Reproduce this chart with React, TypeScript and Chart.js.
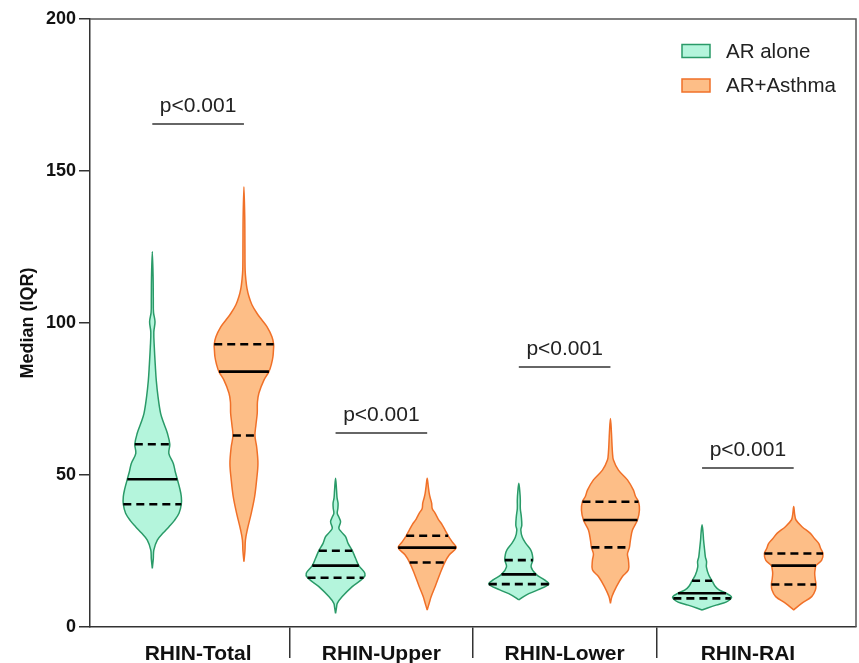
import React, { useEffect, useRef } from "react";
import { Chart, registerables } from "chart.js";

Chart.register(...registerables);

// ---------- data ----------
const CATEGORIES = ["RHIN-Total", "RHIN-Upper", "RHIN-Lower", "RHIN-RAI"];
const GROUPS = ["AR alone", "AR+Asthma"];
const Y_TICKS = [0, 50, 100, 150, 200];

// violin density profiles: value levels (bottom → top) and relative density (half width)
const TOTAL_ALONE_Y = [19.3, 22.5, 25.3, 28.6, 31, 33, 35, 37.4, 40.4, 42.9, 45.5, 48.6, 51, 53.8, 57.1, 60.1, 63.8, 67, 70.3, 75.8, 81, 86, 92, 97, 100.4, 103.5, 108, 115, 123.5];
const TOTAL_ALONE_D = [0, 1, 1.5, 5, 11, 16.7, 22, 26.7, 29, 29, 27.5, 25, 23, 21, 16.5, 17.5, 15, 11.5, 8.3, 5.7, 4, 3, 2, 1.5, 2.7, 1.2, 1, 0.8, 0];
const TOTAL_ASTHMA_Y = [21.5, 25, 28.6, 31.9, 37.4, 42.9, 48.4, 53.8, 59.3, 62.9, 66.5, 70.3, 74, 77, 81.2, 84, 86.5, 88.9, 91, 93, 95.5, 98.8, 101, 103.2, 106, 108.7, 111.5, 114, 117.4, 125, 135, 144.8];
const TOTAL_ASTHMA_D = [0, 1, 1.5, 3.3, 7.3, 10.7, 12.7, 14, 12.7, 11, 12, 13.3, 13.5, 15, 20, 25, 27.5, 29, 29.5, 29.7, 28, 23, 18, 13, 8, 5, 3, 2, 1.2, 1, 0.8, 0];
const UPPER_ALONE_Y = [4.5, 6.5, 7.8, 10, 13.3, 16.2, 17.7, 20.2, 22.6, 25.1, 27.5, 29.7, 31.2, 32.5, 34.6, 36, 37.4, 39, 40.7, 42.5, 45, 48.9];
const UPPER_ALONE_D = [0, 1, 1.7, 6.7, 16.7, 28, 29.3, 23.3, 20, 16.7, 12.5, 10, 6, 3.3, 5, 3.5, 1.7, 2.3, 2.5, 1.5, 1, 0];
const UPPER_ASTHMA_Y = [5.6, 7.8, 10, 13.3, 17.7, 21.2, 23.7, 26.1, 28, 30, 31.8, 33.6, 35.5, 37.4, 39, 40.7, 42.5, 44, 46.5, 48.9];
const UPPER_ASTHMA_D = [0, 2, 4, 8, 13, 17.5, 22, 29, 25, 21, 18, 15, 11, 8, 5, 4.5, 3, 2, 1, 0];
const LOWER_ALONE_Y = [8.9, 10.5, 12.2, 14.1, 15.5, 17.3, 19.8, 22, 23.8, 25.3, 27.5, 29.5, 31.9, 33.5, 36.3, 39, 41.8, 44.5, 47.3];
const LOWER_ALONE_D = [0, 7.3, 19, 30, 25.7, 17.3, 12.3, 14, 13.5, 12, 7, 3.5, 2, 3, 2.5, 1.5, 1.5, 1, 0];
const LOWER_ASTHMA_Y = [7.8, 10, 13.3, 16.6, 18.8, 22, 24, 26.2, 28.6, 31.9, 35.2, 38.5, 41.2, 43, 45, 48.4, 51.6, 54.9, 57.5, 60.4, 64, 68.6];
const LOWER_ASTHMA_D = [0, 1.5, 6, 12, 18, 18, 17, 19, 20, 22, 27, 29, 28, 25, 23, 17, 8, 3, 2, 1.5, 1, 0];
const RAI_ALONE_Y = [5.6, 7.2, 8.2, 9.2, 10, 11.1, 12.2, 13.3, 15.2, 17.1, 19.8, 21.5, 23.1, 25.5, 28.6, 31, 33.6];
const RAI_ALONE_D = [0, 14, 24, 28.5, 29.3, 24, 17, 13.3, 10, 6.7, 4.3, 4.5, 3.3, 2.5, 1.5, 1, 0];
const RAI_ASTHMA_Y = [5.6, 7.8, 10, 12.2, 14, 15.8, 17.7, 19, 20.2, 22, 24.2, 25.8, 27.5, 29, 30.8, 33, 35.2, 37, 39.6];
const RAI_ASTHMA_D = [0, 8, 18, 21.7, 22.3, 21.5, 21, 21.5, 22.3, 28, 29.3, 27, 25, 21, 16.7, 8.3, 2.3, 1, 0];

const ALONE_Y = [TOTAL_ALONE_Y, UPPER_ALONE_Y, LOWER_ALONE_Y, RAI_ALONE_Y];
const ALONE_D = [TOTAL_ALONE_D, UPPER_ALONE_D, LOWER_ALONE_D, RAI_ALONE_D];
const ASTHMA_Y = [TOTAL_ASTHMA_Y, UPPER_ASTHMA_Y, LOWER_ASTHMA_Y, RAI_ASTHMA_Y];
const ASTHMA_D = [TOTAL_ASTHMA_D, UPPER_ASTHMA_D, LOWER_ASTHMA_D, RAI_ASTHMA_D];

const MEDIAN_ALONE = [48.6, 20.2, 17.3, 11.1];
const Q1_ALONE = [40.4, 16.2, 14.1, 9.4];
const Q3_ALONE = [60.1, 25.1, 22, 15.2];
const MEDIAN_ASTHMA = [84, 26.1, 35.2, 20.2];
const Q1_ASTHMA = [63, 21.2, 26.2, 14];
const Q3_ASTHMA = [93, 30, 41.2, 24.2];

const P_LABELS = ["p<0.001", "p<0.001", "p<0.001", "p<0.001"];
const P_Y = [165.5, 63.8, 85.5, 52.3];

// ---------- style ----------
const GROUP_OFFSET = 0.25;
const DENSITY_TO_X = 1 / 183.25;
const ALONE_FILL = "#B4F5DC";
const ALONE_LINE = "#2A9A68";
const ASTHMA_FILL = "#FDBE87";
const ASTHMA_LINE = "#F07028";
const FONT = '"Liberation Sans", Arial, Helvetica, sans-serif';

function violinPoints(center: number, ys: number[], ds: number[]) {
  const right = ys.map((v, i) => ({ x: center + ds[i] * DENSITY_TO_X, y: v }));
  const left = ys
    .map((v, i) => ({ x: center - ds[i] * DENSITY_TO_X, y: v }))
    .reverse()
    .slice(1);
  return right.concat(left);
}

function densityAt(ys: number[], ds: number[], v: number) {
  for (let i = 0; i < ys.length - 1; i++) {
    if (v >= ys[i] && v <= ys[i + 1]) {
      const t = (v - ys[i]) / (ys[i + 1] - ys[i]);
      return ds[i] + t * (ds[i + 1] - ds[i]);
    }
  }
  return 0;
}

function quartileLine(center: number, ys: number[], ds: number[], v: number, dashed: boolean) {
  const d = densityAt(ys, ds, v) * DENSITY_TO_X;
  return {
    type: "scatter" as const,
    data: [
      { x: center - d, y: v },
      { x: center + d, y: v },
    ],
    showLine: true,
    borderColor: "#000",
    borderWidth: 2.6,
    borderDash: dashed ? [8, 5] : [],
    pointRadius: 0,
    fill: false,
    order: 0,
  };
}

function buildDatasets() {
  const sets: any[] = [];
  CATEGORIES.forEach((_, i) => {
    const cA = i - GROUP_OFFSET;
    const cB = i + GROUP_OFFSET;
    sets.push({
      type: "scatter",
      label: GROUPS[0],
      data: violinPoints(cA, ALONE_Y[i], ALONE_D[i]),
      showLine: true,
      fill: "shape",
      backgroundColor: ALONE_FILL,
      borderColor: ALONE_LINE,
      borderWidth: 1.5,
      tension: 0.35,
      pointRadius: 0,
      order: 1,
    });
    sets.push({
      type: "scatter",
      label: GROUPS[1],
      data: violinPoints(cB, ASTHMA_Y[i], ASTHMA_D[i]),
      showLine: true,
      fill: "shape",
      backgroundColor: ASTHMA_FILL,
      borderColor: ASTHMA_LINE,
      borderWidth: 1.5,
      tension: 0.35,
      pointRadius: 0,
      order: 1,
    });
    sets.push(quartileLine(cA, ALONE_Y[i], ALONE_D[i], MEDIAN_ALONE[i], false));
    sets.push(quartileLine(cA, ALONE_Y[i], ALONE_D[i], Q1_ALONE[i], true));
    sets.push(quartileLine(cA, ALONE_Y[i], ALONE_D[i], Q3_ALONE[i], true));
    sets.push(quartileLine(cB, ASTHMA_Y[i], ASTHMA_D[i], MEDIAN_ASTHMA[i], false));
    sets.push(quartileLine(cB, ASTHMA_Y[i], ASTHMA_D[i], Q1_ASTHMA[i], true));
    sets.push(quartileLine(cB, ASTHMA_Y[i], ASTHMA_D[i], Q3_ASTHMA[i], true));
    // significance bar
    sets.push({
      type: "scatter",
      data: [
        { x: cA, y: P_Y[i] },
        { x: cB, y: P_Y[i] },
      ],
      showLine: true,
      borderColor: "#333",
      borderWidth: 1.5,
      pointRadius: 0,
      fill: false,
      order: 0,
    });
  });
  return sets;
}

const annotPlugin = {
  id: "annot",
  afterDatasetsDraw(chart: any) {
    const { ctx, chartArea, scales } = chart;
    const x = scales.x;
    const y = scales.y;
    ctx.save();
    // p-value labels
    ctx.font = `21px ${FONT}`;
    ctx.fillStyle = "#222";
    ctx.textAlign = "center";
    ctx.textBaseline = "alphabetic";
    P_LABELS.forEach((t, i) => {
      ctx.fillText(t, x.getPixelForValue(i), y.getPixelForValue(P_Y[i]) - 12);
    });
    // frame (top and right)
    ctx.strokeStyle = "#555";
    ctx.lineWidth = 1.5;
    ctx.beginPath();
    ctx.moveTo(chartArea.left, chartArea.top);
    ctx.lineTo(chartArea.right, chartArea.top);
    ctx.lineTo(chartArea.right, chartArea.bottom);
    ctx.stroke();
    // legend
    const fills = [ALONE_FILL, ASTHMA_FILL];
    const lines = [ALONE_LINE, ASTHMA_LINE];
    const bx = chartArea.right - 174;
    GROUPS.forEach((g, i) => {
      const cy = chartArea.top + 32 + i * 34.5;
      ctx.fillStyle = fills[i];
      ctx.fillRect(bx, cy - 6.5, 28, 13);
      ctx.strokeStyle = lines[i];
      ctx.lineWidth = 1.5;
      ctx.strokeRect(bx, cy - 6.5, 28, 13);
      ctx.fillStyle = "#222";
      ctx.font = `20.5px ${FONT}`;
      ctx.textAlign = "left";
      ctx.textBaseline = "middle";
      ctx.fillText(g, bx + 44, cy + 1);
    });
    ctx.restore();
  },
};

export default function App() {
  const ref = useRef<HTMLCanvasElement | null>(null);
  useEffect(() => {
    if (!ref.current) return;
    const chart = new Chart(ref.current, {
      type: "scatter",
      data: { datasets: buildDatasets() },
      options: {
        animation: false,
        responsive: false,
        devicePixelRatio: 1,
        layout: { padding: { left: 0, top: 19, right: 3, bottom: 0 } },
        plugins: {
          legend: { display: false },
          tooltip: { enabled: false },
        },
        scales: {
          x: {
            type: "linear",
            min: -0.59,
            max: 3.59,
            afterBuildTicks: (scale: any) => {
              scale.ticks = [0, 0.5, 1, 1.5, 2, 2.5, 3].map((v) => ({ value: v }));
            },
            afterFit: (scale: any) => {
              scale.height = 36;
            },
            ticks: {
              autoSkip: false,
              maxRotation: 0,
              minRotation: 0,
              padding: -16,
              color: "#111",
              font: { family: FONT, size: 21, weight: "bold" },
              callback: (v: any) => (Number.isInteger(v) ? CATEGORIES[v] : ""),
            },
            grid: {
              drawOnChartArea: false,
              tickLength: 31,
              lineWidth: 1.5,
              color: (c: any) =>
                c.tick && !Number.isInteger(c.tick.value) ? "#333" : "rgba(0,0,0,0)",
            },
            border: { display: true, color: "#333", width: 1.5 },
          },
          y: {
            type: "linear",
            min: 0,
            max: 200,
            afterBuildTicks: (scale: any) => {
              scale.ticks = Y_TICKS.map((v) => ({ value: v }));
            },
            afterFit: (scale: any) => {
              scale.width = 90;
            },
            ticks: {
              padding: 3,
              color: "#111",
              font: { family: FONT, size: 18, weight: "bold" },
            },
            grid: {
              drawOnChartArea: false,
              tickLength: 11,
              lineWidth: 1.5,
              color: "#333",
            },
            border: { display: true, color: "#333", width: 1.5 },
            title: {
              display: true,
              text: "Median (IQR)",
              color: "#111",
              font: { family: FONT, size: 18, weight: "bold" },
              padding: { top: 17, bottom: 0 },
            },
          },
        },
      },
      plugins: [annotPlugin],
    } as any);
    return () => chart.destroy();
  }, []);
  return (
    <div style={{ position: "absolute", left: 0, top: 0, width: 859, height: 663 }}>
      <canvas ref={ref} width={859} height={663} style={{ width: 859, height: 663, display: "block" }} />
    </div>
  );
}
